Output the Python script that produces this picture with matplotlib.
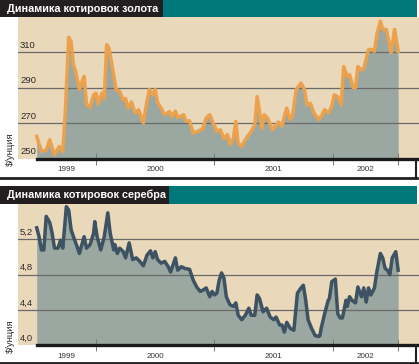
import matplotlib
matplotlib.use('Agg')
import matplotlib.pyplot as plt
from matplotlib.patches import Rectangle
from matplotlib.lines import Line2D

plt.rcParams['font.family'] = ['Liberation Sans', 'DejaVu Sans']

W, H = 419, 364

# colours
BEIGE = '#ead8ba'
FILL = '#9aa8a1'
TEAL = '#00787a'
DARK = '#231f20'
GOLD_C = '#eca14d'
SILVER_C = '#3d5262'
GRID_C = '#6a6a6a'

# gold, $/oz (weekly)
gold_t = [1999.50, 1999.54, 1999.58, 1999.61, 1999.65, 1999.69, 1999.72, 1999.74, 1999.77, 1999.79,
          1999.81, 1999.83, 1999.86, 1999.88, 1999.90, 1999.92, 1999.95, 1999.98, 2000.00, 2000.02,
          2000.05, 2000.07, 2000.09, 2000.11, 2000.14, 2000.17, 2000.20, 2000.23, 2000.25, 2000.27,
          2000.30, 2000.33, 2000.36, 2000.40, 2000.42, 2000.45, 2000.48, 2000.50, 2000.52, 2000.55,
          2000.58, 2000.62, 2000.64, 2000.67, 2000.69, 2000.74, 2000.76, 2000.79, 2000.82, 2000.86,
          2000.90, 2000.93, 2000.96, 2000.98, 2001.02, 2001.05, 2001.08, 2001.11, 2001.13, 2001.16,
          2001.18, 2001.20, 2001.23, 2001.26, 2001.29, 2001.31, 2001.34, 2001.36, 2001.38, 2001.40,
          2001.42, 2001.45, 2001.49, 2001.52, 2001.54, 2001.57, 2001.59, 2001.61, 2001.64, 2001.66,
          2001.69, 2001.73, 2001.76, 2001.78, 2001.81, 2001.84, 2001.88, 2001.90, 2001.93, 2001.96,
          2001.99, 2002.01, 2002.04, 2002.07, 2002.09, 2002.12, 2002.14, 2002.17, 2002.19, 2002.21,
          2002.24, 2002.26, 2002.30, 2002.33, 2002.35, 2002.37, 2002.40, 2002.42, 2002.45, 2002.48,
          2002.49, 2002.52, 2002.55]
gold_v = [262.5, 254.0, 254.7, 260.6, 252.0, 256.8, 254.0, 274.8, 318.5, 316.0,
          303.0, 299.0, 289.0, 293.0, 296.5, 280.4, 279.0, 286.0, 287.0, 280.8,
          287.0, 284.0, 314.4, 312.5, 301.0, 289.0, 288.0, 283.0, 284.0, 278.5,
          282.0, 275.7, 277.6, 270.0, 278.5, 289.0, 286.0, 289.0, 281.5, 278.5,
          274.8, 276.5, 273.8, 276.8, 273.0, 274.8, 271.0, 271.3, 264.4, 265.3,
          266.8, 272.9, 274.8, 271.3, 265.3, 266.2, 261.2, 263.5, 257.8, 261.6,
          271.0, 258.7, 256.8, 260.6, 263.5, 265.3, 269.0, 285.0, 276.6, 267.2,
          274.8, 272.6, 266.2, 269.0, 270.6, 268.3, 273.8, 278.5, 272.0, 274.8,
          289.0, 292.7, 289.0, 280.4, 281.2, 275.7, 272.0, 273.8, 277.6, 275.7,
          279.5, 286.0, 285.0, 280.4, 302.0, 296.5, 297.4, 290.0, 290.0, 302.0,
          300.0, 301.0, 311.6, 311.6, 310.5, 320.0, 327.6, 323.0, 323.0, 313.5,
          309.7, 323.0, 310.6]

# silver, $/oz
silver_t = [1999.50, 1999.52, 1999.54, 1999.56, 1999.58, 1999.61, 1999.63, 1999.65, 1999.68, 1999.70,
            1999.72, 1999.75, 1999.77, 1999.79, 1999.81, 1999.84, 1999.86, 1999.90, 1999.92, 1999.95,
            1999.98, 1999.99, 2000.01, 2000.04, 2000.07, 2000.10, 2000.12, 2000.15, 2000.16, 2000.18,
            2000.20, 2000.23, 2000.25, 2000.28, 2000.31, 2000.34, 2000.37, 2000.40, 2000.43, 2000.46,
            2000.48, 2000.50, 2000.52, 2000.55, 2000.58, 2000.61, 2000.63, 2000.67, 2000.69, 2000.72,
            2000.75, 2000.79, 2000.82, 2000.85, 2000.88, 2000.91, 2000.93, 2000.96, 2000.98, 2001.00,
            2001.02, 2001.04, 2001.06, 2001.08, 2001.10, 2001.13, 2001.16, 2001.18, 2001.20, 2001.23,
            2001.26, 2001.29, 2001.31, 2001.34, 2001.36, 2001.38, 2001.41, 2001.44, 2001.47, 2001.50,
            2001.52, 2001.55, 2001.57, 2001.59, 2001.61, 2001.64, 2001.67, 2001.70, 2001.73, 2001.75,
            2001.77, 2001.79, 2001.82, 2001.85, 2001.88, 2001.89, 2001.90, 2001.93, 2001.96, 2001.97,
            2001.99, 2002.02, 2002.04, 2002.06, 2002.08, 2002.11, 2002.12, 2002.14, 2002.16, 2002.19,
            2002.21, 2002.24, 2002.26, 2002.28, 2002.30, 2002.32, 2002.35, 2002.37, 2002.40, 2002.42,
            2002.44, 2002.46, 2002.48, 2002.50, 2002.53, 2002.55]
silver_v = [5.33, 5.23, 5.08, 5.08, 5.46, 5.39, 5.27, 5.10, 5.10, 5.19,
            5.10, 5.57, 5.53, 5.31, 5.23, 5.12, 5.04, 5.23, 5.10, 5.14,
            5.27, 5.40, 5.23, 5.08, 5.23, 5.50, 5.27, 5.08, 5.14, 5.04,
            5.10, 5.06, 4.99, 5.16, 4.97, 4.99, 4.95, 4.90, 5.02, 5.07,
            4.99, 5.06, 4.97, 4.93, 4.95, 4.89, 4.83, 4.99, 4.85, 4.89,
            4.87, 4.86, 4.74, 4.66, 4.61, 4.63, 4.65, 4.55, 4.61, 4.57,
            4.59, 4.74, 4.82, 4.76, 4.55, 4.46, 4.44, 4.48, 4.34, 4.29,
            4.34, 4.42, 4.34, 4.34, 4.57, 4.53, 4.38, 4.42, 4.32, 4.29,
            4.32, 4.23, 4.23, 4.15, 4.26, 4.19, 4.17, 4.59, 4.65, 4.68,
            4.51, 4.29, 4.19, 4.11, 4.10, 4.11, 4.19, 4.36, 4.51, 4.53,
            4.72, 4.75, 4.36, 4.31, 4.31, 4.51, 4.44, 4.55, 4.51, 4.48,
            4.66, 4.55, 4.65, 4.49, 4.65, 4.57, 4.65, 4.83, 5.04, 4.99,
            4.87, 4.85, 4.80, 4.99, 5.06, 4.85]

year_labels = ['1999', '2000', '2001', '2002']
year_mid = [1999.75, 2000.5, 2001.5, 2002.275]
year_ticks = [2000, 2001, 2002, 2002.55]
gold_ticks = [250, 270, 290, 310]
gold_tlab = ['250', '270', '290', '310']
silver_ticks = [4.0, 4.4, 4.8, 5.2]
silver_tlab = ['4,0', '4,4', '4,8', '5,2']

XLIM = (1999.342, 2002.726)


def rect(fig, x0, y0, x1, y1, color):
    fig.add_artist(Rectangle((x0 / W, 1 - y1 / H), (x1 - x0) / W, (y1 - y0) / H,
                             transform=fig.transFigure, color=color, lw=0))


def hline(fig, x0, x1, y, lw, color):
    fig.add_artist(Line2D([x0 / W, x1 / W], [1 - y / H, 1 - y / H],
                          transform=fig.transFigure, color=color, lw=lw))


def vline(fig, x, y0, y1, lw, color):
    fig.add_artist(Line2D([x / W, x / W], [1 - y0 / H, 1 - y1 / H],
                          transform=fig.transFigure, color=color, lw=lw))


def panel(fig, top, title, title_w, t, v, line_c, ylim, ticks, tlab, ax_top, ax_bot, box_bot):
    # title bar
    rect(fig, 0, top, title_w, ax_top, DARK)
    rect(fig, title_w, top, 417, ax_top, TEAL)
    fig.text(7 / W, 1 - (top + ax_top) / 2 / H, title, color='white', fontsize=7.8,
             fontweight='bold', ha='left', va='center')

    ax = fig.add_axes([18 / W, 1 - ax_bot / H, (W - 18) / W, (ax_bot - ax_top) / H])
    ax.set_facecolor(BEIGE)
    ax.set_xlim(*XLIM)
    ax.set_ylim(*ylim)
    ax.fill_between(t, v, ylim[0], color=FILL, lw=0, zorder=1)
    for tk in ticks[1:]:
        ax.axhline(tk, color=GRID_C, lw=0.9, zorder=1.5)
    ax.plot(t, v, color=line_c, lw=2.5, zorder=2)

    for tk, lab in zip(ticks, tlab):
        ax.annotate(lab, xy=(0, tk), xycoords=('axes fraction', 'data'),
                    xytext=(2, 2.5), textcoords='offset pixels',
                    fontsize=6.8, color='#2a2a2a', ha='left', va='bottom')

    for s in ['top', 'left', 'right']:
        ax.spines[s].set_visible(False)
    ax.spines['bottom'].set_bounds(t[0], 2002.71)
    ax.spines['bottom'].set_linewidth(2.4)
    ax.spines['bottom'].set_color('#1a1a1a')
    ax.set_yticks([])
    ax.set_xticks(year_ticks)
    ax.set_xticklabels([])
    ax.tick_params(axis='x', which='major', direction='inout', length=8.5,
                   width=0.7, color='#777777')
    ax.set_xticks(year_mid, minor=True)
    ax.set_xticklabels(year_labels, minor=True)
    ax.tick_params(axis='x', which='minor', length=0, pad=5.5,
                   labelsize=5.8, labelcolor='#333333')

    # box round the year row
    vline(fig, 416, ax_bot, box_bot, 1.5, DARK)
    hline(fig, 0, 417, box_bot, 2.0, DARK)

    fig.text(10 / W, 1 - (ax_bot - 9) / H, '$/унция', rotation=90, fontsize=6.8,
             color='#2a2a2a', ha='center', va='center')
    return ax


fig = plt.figure(figsize=(W / 100, H / 100), dpi=100)
fig.patch.set_facecolor('white')

panel(fig, 0, 'Динамика котировок золота', 163, gold_t, gold_v, GOLD_C,
      (250, 330), gold_ticks, gold_tlab, 17, 158.5, 177.5)
panel(fig, 186, 'Динамика котировок серебра', 169, silver_t, silver_v, SILVER_C,
      (4.0, 5.6), silver_ticks, silver_tlab, 204, 345.3, 362.5)

fig.savefig('out.png', dpi=100)
